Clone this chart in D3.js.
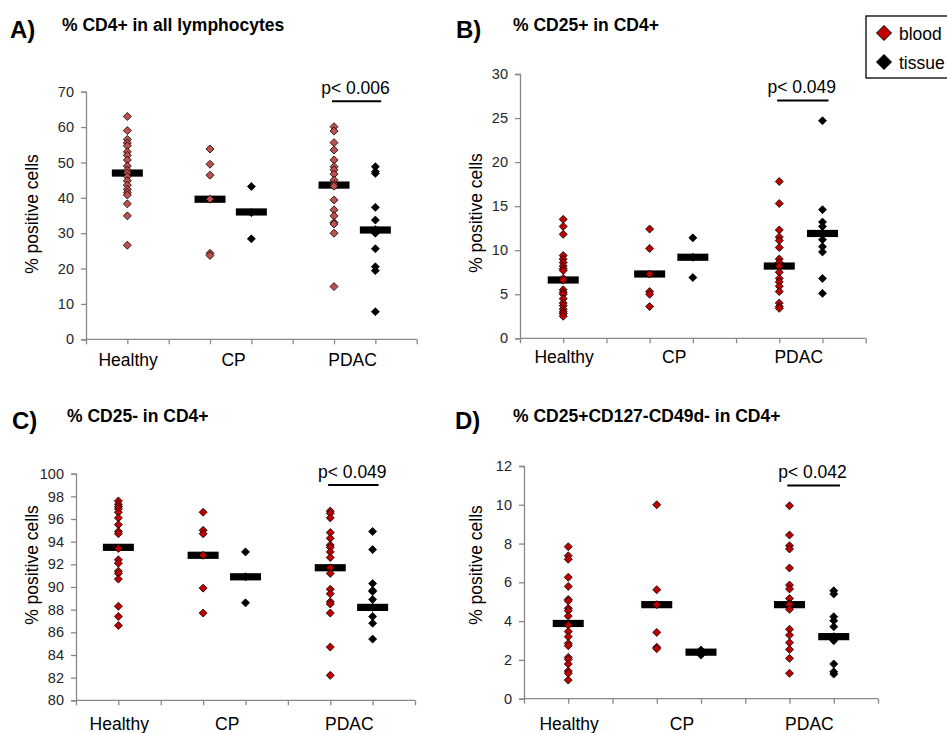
<!DOCTYPE html>
<html><head><meta charset="utf-8">
<script src="https://cdn.jsdelivr.net/npm/d3@7"></script>
<style>body{margin:0;background:#fff}svg{display:block;font-family:"Liberation Sans",Arial,sans-serif}</style>
</head><body>
<script>
// ---------- DATA ----------
const categories = ["Healthy", "CP", "PDAC"];
const groupSlots = [1, 3, 4, 6, 7];            // Healthy blood, CP blood, CP tissue, PDAC blood, PDAC tissue
const groupTypes = ["blood", "blood", "tissue", "blood", "tissue"];
const seriesNames = ["blood", "tissue"];

const panelLetters = ["A)", "B)", "C)", "D)"];
const panelTitles = ["% CD4+ in all lymphocytes", "% CD25+ in CD4+", "% CD25- in CD4+", "% CD25+CD127-CD49d- in CD4+"];
const yAxisTitle = "% positive cells";
const pValueLabels = ["p< 0.006", "p< 0.049", "p< 0.049", "p< 0.042"];
const pValueLevels = [67.3, 27.0, 99.0, 11.0];

const ticksA = [0, 10, 20, 30, 40, 50, 60, 70];
const ticksB = [0, 5, 10, 15, 20, 25, 30];
const ticksC = [80, 82, 84, 86, 88, 90, 92, 94, 96, 98, 100];
const ticksD = [0, 2, 4, 6, 8, 10, 12];

// A) % CD4+ in all lymphocytes
const cd4HealthyBlood = [63, 59, 56.5, 55.5, 54.7, 53, 52, 50.7, 49, 47.8, 47, 46, 44.8, 43.6, 42.4, 41.5, 40.8, 38.3, 34.9, 26.6];
const cd4CpBlood = [53.8, 49.5, 46.4, 39.6, 24.3, 23.7];
const cd4CpTissue = [43.2, 35.8, 28.4];
const cd4PdacBlood = [60.1, 58.9, 55.6, 53.5, 50.7, 48.8, 47.9, 46.7, 45.0, 43.8, 43.3, 39.4, 36.6, 34.9, 33.0, 32.6, 30.0, 14.9];
const cd4PdacTissue = [48.8, 47.4, 46.9, 37.3, 33.7, 31.0, 30.0, 25.6, 20.5, 19.4, 7.8];
const cd4Medians = [47.0, 39.6, 36.0, 43.6, 30.9];

// B) % CD25+ in CD4+
const cd25pHealthyBlood = [13.5, 12.7, 11.8, 9.4, 9.0, 8.6, 8.2, 7.9, 7.7, 6.8, 6.6, 5.5, 5.2, 5.0, 4.5, 4.0, 3.7, 3.3, 3.0, 2.8, 2.5];
const cd25pCpBlood = [12.4, 10.2, 7.3, 5.3, 5.0, 3.6];
const cd25pCpTissue = [11.4, 9.2, 6.9];
const cd25pPdacBlood = [17.8, 15.3, 12.3, 11.5, 11.1, 10.3, 9.0, 8.6, 8.2, 7.5, 6.8, 6.4, 5.9, 5.3, 4.0, 3.6, 3.4];
const cd25pPdacTissue = [24.7, 14.6, 13.2, 12.7, 12.0, 11.2, 10.4, 9.8, 6.8, 5.1];
const cd25pMedians = [6.62, 7.3, 9.2, 8.2, 11.9];

// C) % CD25- in CD4+
const cd25nHealthyBlood = [97.6, 97.3, 97.1, 96.9, 96.6, 96.1, 95.5, 94.9, 94.7, 93.4, 92.4, 92.1, 91.4, 91.2, 90.7, 88.3, 87.4, 86.6];
const cd25nCpBlood = [96.6, 95.0, 94.7, 92.8, 89.9, 87.7];
const cd25nCpTissue = [93.1, 90.9, 88.6];
const cd25nPdacBlood = [96.7, 96.5, 96.1, 94.8, 94.3, 93.7, 93.5, 93.1, 92.6, 91.7, 91.2, 89.8, 89.4, 88.7, 88.5, 87.7, 84.7, 82.2];
const cd25nPdacTissue = [94.9, 93.3, 90.3, 89.7, 89.6, 88.9, 88.2, 87.4, 86.8, 85.4];
const cd25nMedians = [93.5, 92.8, 90.9, 91.7, 88.2];

// D) % CD25+CD127-CD49d- in CD4+
const tregHealthyBlood = [7.84, 7.37, 7.19, 6.26, 5.79, 5.12, 5.04, 4.66, 4.54, 4.26, 3.8, 3.46, 3.2, 2.85, 2.73, 2.13, 2.03, 1.79, 1.43, 1.31, 0.96];
const tregCpBlood = [10.0, 5.62, 4.85, 3.42, 2.65, 2.58];
const tregCpTissue = [2.51, 2.39, 2.25];
const tregPdacBlood = [9.95, 8.44, 7.89, 7.72, 6.74, 5.86, 5.66, 5.17, 4.92, 4.85, 4.61, 3.58, 3.28, 2.89, 2.54, 2.08, 1.31];
const tregPdacTissue = [5.57, 5.40, 4.23, 4.02, 3.71, 3.2, 2.99, 1.79, 1.39, 1.27];
const tregMedians = [3.88, 4.85, 2.4, 4.85, 3.2];

// ---------- ASSEMBLY ----------
const panelGroups = [
  [cd4HealthyBlood, cd4CpBlood, cd4CpTissue, cd4PdacBlood, cd4PdacTissue],
  [cd25pHealthyBlood, cd25pCpBlood, cd25pCpTissue, cd25pPdacBlood, cd25pPdacTissue],
  [cd25nHealthyBlood, cd25nCpBlood, cd25nCpTissue, cd25nPdacBlood, cd25nPdacTissue],
  [tregHealthyBlood, tregCpBlood, tregCpTissue, tregPdacBlood, tregPdacTissue]
];
const panelMedians = [cd4Medians, cd25pMedians, cd25nMedians, tregMedians];
const panelTicks = [ticksA, ticksB, ticksC, ticksD];

// ---------- LAYOUT / STYLE ----------
const W = 947, H = 733;
const layouts = [
  {left: 86, right: 416.7, top: 91.7, bottom: 339.3, lx: 10, ly: 38, tx: 62, ty: 31, ylx: 32, yly: 214, xly: 366, bloodFill: "#c0504d"},
  {left: 520, right: 865.7, top: 74, bottom: 338.3, lx: 456, ly: 38, tx: 513, ty: 31, ylx: 476, yly: 213, xly: 363, bloodFill: "#c00000"},
  {left: 76, right: 415, top: 473.7, bottom: 700.3, lx: 12, ly: 429, tx: 67, ty: 422, ylx: 32, yly: 565, xly: 730, bloodFill: "#c00000"},
  {left: 524, right: 878, top: 466, bottom: 698.7, lx: 455, ly: 429, tx: 513, ty: 422, ylx: 476, yly: 565, xly: 730, bloodFill: "#c00000"}
];
const labelSlots = [1.02, 3.57, 6.45];
const axisColor = "#888";
const textColor = "#262626";
const diamond = d3.symbol().type(d3.symbolDiamond2 || d3.symbolDiamond).size(48);
function diamondPath(r) {
  return `M0,${-r}L${r},0L0,${r}L${-r},0Z`;
}

const svg = d3.select("body").append("svg").attr("width", W).attr("height", H);

panelGroups.forEach((groups, p) => {
  const L = layouts[p];
  const ticks = panelTicks[p];
  const x = d3.scaleLinear().domain([0, 8]).range([L.left, L.right]);
  const y = d3.scaleLinear().domain([ticks[0], ticks[ticks.length - 1]]).range([L.bottom, L.top]);
  const g = svg.append("g");

  // panel letter & title
  g.append("text").attr("x", L.lx).attr("y", L.ly).attr("font-size", 24).attr("font-weight", "bold")
    .attr("fill", "#000").text(panelLetters[p]);
  g.append("text").attr("x", L.tx).attr("y", L.ty).attr("font-size", 17.5).attr("font-weight", "bold")
    .attr("fill", "#000").text(panelTitles[p]);

  // y axis
  const yAxis = d3.axisLeft(y).tickValues(ticks).tickSize(5).tickPadding(7).tickFormat(d3.format("d"));
  const ya = g.append("g").attr("transform", `translate(${L.left},0)`).call(yAxis);
  ya.select(".domain").attr("stroke", axisColor).attr("stroke-width", 1.3);
  ya.selectAll(".tick line").attr("stroke", axisColor).attr("stroke-width", 1.3);
  ya.selectAll(".tick text").attr("font-size", 14.5).attr("fill", textColor)
    .attr("font-family", '"Liberation Sans",Arial,sans-serif');

  // x axis
  const xAxis = d3.axisBottom(x).tickValues(d3.range(0, 9)).tickSize(5).tickFormat("");
  const xa = g.append("g").attr("transform", `translate(0,${L.bottom})`).call(xAxis);
  xa.select(".domain").attr("stroke", axisColor).attr("stroke-width", 1.3).attr("d", `M${L.left},0H${L.right}`);
  xa.selectAll(".tick line").attr("stroke", axisColor).attr("stroke-width", 1.3);

  // category labels
  g.selectAll(".cat").data(categories).join("text")
    .attr("x", (d, i) => x(labelSlots[i])).attr("y", L.xly)
    .attr("text-anchor", "middle").attr("font-size", 17.5).attr("fill", "#000").text(d => d);

  // y title
  g.append("text").attr("transform", `translate(${L.ylx},${L.yly}) rotate(-90)`)
    .attr("text-anchor", "middle").attr("dominant-baseline", "central")
    .attr("font-size", 17.5).attr("fill", "#000").text(yAxisTitle);

  // median bars
  g.selectAll(".med").data(panelMedians[p]).join("rect")
    .attr("x", (d, i) => x(groupSlots[i]) - 15.5).attr("y", d => y(d) - 3.6)
    .attr("width", 31).attr("height", 7.2).attr("fill", "#000");

  // points
  groups.forEach((vals, gi) => {
    const fill = groupTypes[gi] === "blood" ? L.bloodFill : "#000";
    g.selectAll(null).data(vals).join("path")
      .attr("d", diamondPath(4))
      .attr("transform", d => `translate(${x(groupSlots[gi])},${y(d)})`)
      .attr("fill", fill).attr("stroke", "#000").attr("stroke-width", 0.8);
  });

  // significance
  const py = y(pValueLevels[p]);
  g.append("line").attr("x1", x(5.95)).attr("x2", x(7.14)).attr("y1", py).attr("y2", py)
    .attr("stroke", "#000").attr("stroke-width", 2);
  g.append("text").attr("x", x(6.52)).attr("y", py - 7).attr("text-anchor", "middle")
    .attr("font-size", 17.5).attr("fill", "#000").text(pValueLabels[p]);
});

// legend
const lg = svg.append("g");
lg.append("rect").attr("x", 866).attr("y", 16).attr("width", 110).attr("height", 62)
  .attr("fill", "#fff").attr("stroke", "#000").attr("stroke-width", 1.3);
seriesNames.forEach((s, i) => {
  lg.append("path").attr("d", diamondPath(7.5))
    .attr("transform", `translate(884,${33 + i * 29})`)
    .attr("fill", s === "blood" ? "#c00000" : "#000").attr("stroke", "#000").attr("stroke-width", 1);
  lg.append("text").attr("x", 899).attr("y", 39.5 + i * 29).attr("font-size", 17.5).attr("fill", "#000").text(s);
});
</script>
</body></html>
